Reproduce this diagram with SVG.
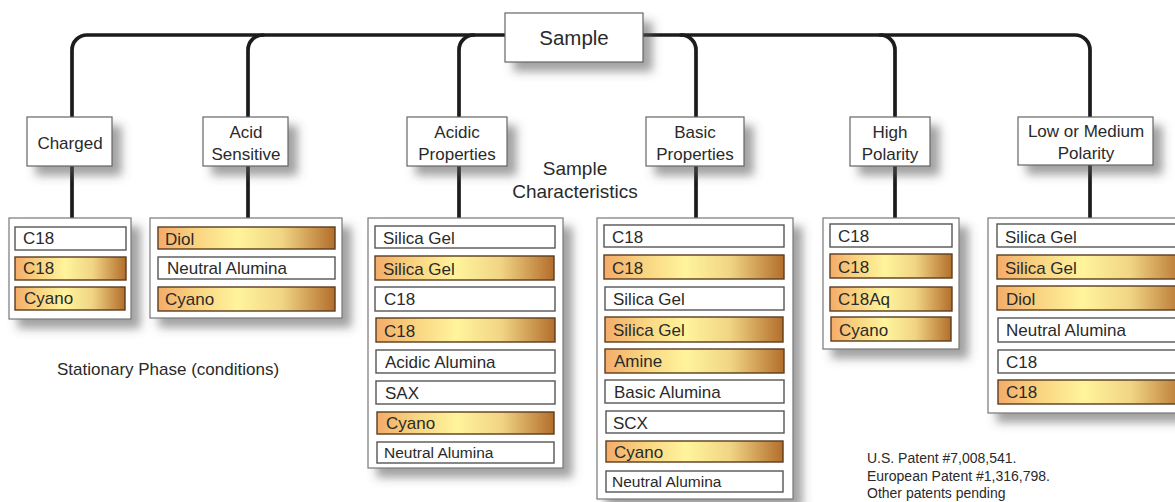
<svg xmlns="http://www.w3.org/2000/svg" width="1175" height="502" viewBox="0 0 1175 502">
<style>
text{font-family:"Liberation Sans",Arial,sans-serif;fill:#2a2a2a}
.hb{fill:#fff;stroke:#666;stroke-width:1.2}
.lb{fill:#fff;stroke:#777;stroke-width:1.2}
.w{fill:#fff;stroke:#555;stroke-width:1.4}
.g{fill:url(#gold);stroke:#5a3c1e;stroke-width:1.4}
.ht{font-size:17px;text-anchor:middle}
.it{font-size:17px}
.ln{fill:none;stroke:#1c1c1c;stroke-width:3.7;stroke-linecap:round}
</style>
<defs>
<linearGradient id="gold" x1="0" y1="0" x2="1" y2="0">
<stop offset="0" stop-color="#F3AC6A"/>
<stop offset="0.2" stop-color="#F9D17E"/>
<stop offset="0.45" stop-color="#FFF49C"/>
<stop offset="0.7" stop-color="#F1D584"/>
<stop offset="1" stop-color="#B36E2C"/>
</linearGradient>
<filter id="sh" x="-20%" y="-20%" width="150%" height="160%">
<feGaussianBlur in="SourceAlpha" stdDeviation="5"/>
<feOffset dx="9" dy="9" result="b"/>
<feFlood flood-color="#555" flood-opacity="0.55"/>
<feComposite in2="b" operator="in"/>
<feMerge><feMergeNode/><feMergeNode in="SourceGraphic"/></feMerge>
</filter>
</defs>
<rect width="1175" height="502" fill="#fff"/>

<g id="connectors">
<path class="ln" d="M505,35 L87,35 A15,15 0 0 0 72,50 L72,218"/>
<path class="ln" d="M263,35 A15,15 0 0 0 248,50 L248,218"/>
<path class="ln" d="M474,35 A15,15 0 0 0 459,50 L459,218"/>
<path class="ln" d="M643,35 L1075,35 A15,15 0 0 1 1090,50 L1090,218"/>
<path class="ln" d="M681,35 A15,15 0 0 1 696,50 L696,218"/>
<path class="ln" d="M880,35 A15,15 0 0 1 895,50 L895,218"/>
</g>

<g id="sample"><rect class="hb" x="505" y="13" width="138" height="49" filter="url(#sh)"/><text x="574" y="45" style="font-size:20.5px;text-anchor:middle">Sample</text></g>

<g id="charged"><rect class="hb" x="27" y="117" width="85" height="49" filter="url(#sh)"/><text class="ht" x="70" y="149">Charged</text></g>
<g id="acid-sensitive"><rect class="hb" x="203" y="117" width="85" height="49" filter="url(#sh)"/><text class="ht" x="246" y="138">Acid</text><text class="ht" x="246" y="160">Sensitive</text></g>
<g id="acidic-properties"><rect class="hb" x="407" y="117" width="100" height="49" filter="url(#sh)"/><text class="ht" x="457" y="138">Acidic</text><text class="ht" x="457" y="160">Properties</text></g>
<g id="basic-properties"><rect class="hb" x="646" y="117" width="98" height="49" filter="url(#sh)"/><text class="ht" x="695" y="138">Basic</text><text class="ht" x="695" y="160">Properties</text></g>
<g id="high-polarity"><rect class="hb" x="850" y="117" width="80" height="49" filter="url(#sh)"/><text class="ht" x="890" y="138">High</text><text class="ht" x="890" y="160">Polarity</text></g>
<g id="low-medium-polarity"><rect class="hb" x="1018" y="117" width="135" height="48" filter="url(#sh)"/><text class="ht" x="1086" y="137">Low or Medium</text><text class="ht" x="1086" y="159">Polarity</text></g>

<g id="label-characteristics"><text x="575" y="175" style="font-size:19px;text-anchor:middle">Sample</text><text x="575" y="198" style="font-size:19px;text-anchor:middle">Characteristics</text></g>
<g id="label-stationary"><text x="57" y="375" style="font-size:17px">Stationary Phase (conditions)</text></g>

<g id="list-charged">
<rect class="lb" x="9" y="218" width="122" height="101" filter="url(#sh)"/>
<rect class="w" x="15" y="227" width="111" height="23"/><text class="it" x="23" y="244">C18</text>
<rect class="g" x="15" y="257" width="111" height="23"/><text class="it" x="23" y="274">C18</text>
<rect class="g" x="15" y="287" width="110" height="23"/><text class="it" x="24" y="304">Cyano</text>
</g>

<g id="list-acid-sensitive">
<rect class="lb" x="150" y="218" width="192" height="100" filter="url(#sh)"/>
<rect class="g" x="158" y="227" width="177" height="22"/><text class="it" x="165" y="245">Diol</text>
<rect class="w" x="158" y="257" width="177" height="22"/><text class="it" x="167" y="274">Neutral Alumina</text>
<rect class="g" x="158" y="287" width="177" height="24"/><text class="it" x="165" y="305">Cyano</text>
</g>

<g id="list-acidic">
<rect class="lb" x="368" y="218" width="195" height="250" filter="url(#sh)"/>
<rect class="w" x="375" y="226" width="180" height="22"/><text class="it" x="383" y="244">Silica Gel</text>
<rect class="g" x="375" y="256" width="179" height="24"/><text class="it" x="383" y="275">Silica Gel</text>
<rect class="w" x="375" y="287" width="180" height="24"/><text class="it" x="384" y="305">C18</text>
<rect class="g" x="376" y="318" width="179" height="24"/><text class="it" x="384" y="337">C18</text>
<rect class="w" x="376" y="350" width="179" height="23"/><text class="it" x="385" y="368">Acidic Alumina</text>
<rect class="w" x="376" y="381" width="179" height="23"/><text class="it" x="385" y="399">SAX</text>
<rect class="g" x="377" y="412" width="177" height="22"/><text class="it" x="386" y="429">Cyano</text>
<rect class="w" x="377" y="442" width="177" height="21"/><text class="it" x="384" y="458" style="font-size:15.5px">Neutral Alumina</text>
</g>

<g id="list-basic">
<rect class="lb" x="597" y="218" width="196" height="281" filter="url(#sh)"/>
<rect class="w" x="604" y="225" width="180" height="22"/><text class="it" x="612" y="243">C18</text>
<rect class="g" x="604" y="255" width="180" height="24"/><text class="it" x="612" y="274">C18</text>
<rect class="w" x="605" y="287" width="179" height="23"/><text class="it" x="613" y="305">Silica Gel</text>
<rect class="g" x="605" y="317" width="178" height="25"/><text class="it" x="613" y="336">Silica Gel</text>
<rect class="g" x="605" y="349" width="179" height="24"/><text class="it" x="614" y="367">Amine</text>
<rect class="w" x="605" y="380" width="179" height="23"/><text class="it" x="614" y="398">Basic Alumina</text>
<rect class="w" x="606" y="411" width="178" height="22"/><text class="it" x="613" y="429">SCX</text>
<rect class="g" x="606" y="441" width="177" height="21"/><text class="it" x="614" y="458">Cyano</text>
<rect class="w" x="606" y="471" width="177" height="21"/><text class="it" x="612" y="487" style="font-size:15.5px">Neutral Alumina</text>
</g>

<g id="list-high">
<rect class="lb" x="823" y="218" width="136" height="131" filter="url(#sh)"/>
<rect class="w" x="830" y="224" width="122" height="23"/><text class="it" x="838" y="242">C18</text>
<rect class="g" x="830" y="254" width="122" height="24"/><text class="it" x="838" y="273">C18</text>
<rect class="g" x="830" y="287" width="122" height="24"/><text class="it" x="838" y="305">C18Aq</text>
<rect class="g" x="831" y="317" width="120" height="24"/><text class="it" x="839" y="336">Cyano</text>
</g>

<g id="list-low-medium">
<rect class="lb" x="988" y="218" width="200" height="195" filter="url(#sh)"/>
<rect class="w" x="997" y="224" width="190" height="23"/><text class="it" x="1005" y="243">Silica Gel</text>
<rect class="g" x="997" y="255" width="190" height="24"/><text class="it" x="1005" y="274">Silica Gel</text>
<rect class="g" x="997" y="286" width="190" height="24"/><text class="it" x="1006" y="305">Diol</text>
<rect class="w" x="998" y="318" width="190" height="24"/><text class="it" x="1006" y="336">Neutral Alumina</text>
<rect class="w" x="998" y="350" width="190" height="23"/><text class="it" x="1006" y="368">C18</text>
<rect class="g" x="998" y="380" width="190" height="24"/><text class="it" x="1006" y="398">C18</text>
</g>

<g id="patent">
<text x="867" y="463" style="font-size:14px">U.S. Patent #7,008,541.</text>
<text x="867" y="481" style="font-size:14px">European Patent #1,316,798.</text>
<text x="867" y="498" style="font-size:14px">Other patents pending</text>
</g>
</svg>
